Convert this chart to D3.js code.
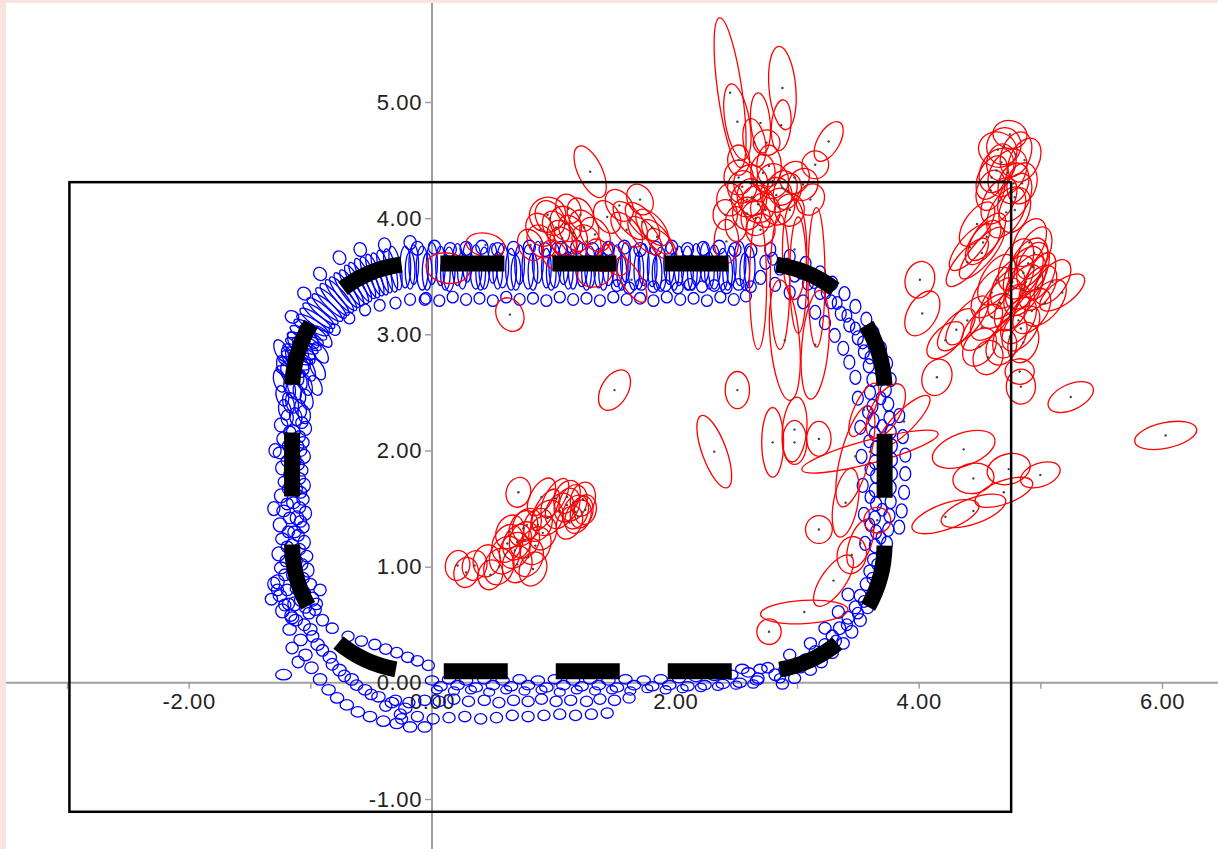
<!DOCTYPE html>
<html>
<head>
<meta charset="utf-8">
<script src="https://cdn.jsdelivr.net/npm/d3@7"></script>
<style>
body { margin: 0; background: #fff; }
svg { display: block; font-family: "Liberation Sans", Arial, sans-serif; }
</style>
</head>
<body>
<svg id="chart" width="1218" height="849"></svg>
<script>
// axis ticks
const xTicks = [-3, -2, -1, 0, 1, 2, 3, 4, 5, 6];
const xLabels = [-2, 0, 2, 4, 6];
const yTicks = [-1, 0, 1, 2, 3, 4, 5];

// outer box and dashed rounded box: [x0, y0, x1, y1] in data units
const frameBox = [-2.98, 4.31, 4.76, -1.11];
const dashBox = [-1.15, 3.61, 3.72, 0.10];
const dashCorner = [1.03, 1.10];

// blue ellipses: [x, y, rx, ry, rotation]
const blueEllipses = [
  // top band, tall
  [-0.22,3.58,.045,.18],[-0.15,3.60,.04,.17],[-0.08,3.57,.05,.19],[0.00,3.61,.045,.18],[0.07,3.59,.04,.17],[0.14,3.56,.05,.19],[0.21,3.60,.045,.18],[0.29,3.62,.04,.17],[0.36,3.58,.05,.19],[0.43,3.57,.045,.18],
  [0.50,3.61,.04,.17],[0.58,3.59,.05,.19],[0.65,3.56,.045,.18],[0.72,3.60,.04,.17],[0.79,3.58,.05,.19],[0.87,3.62,.045,.18],[0.94,3.57,.04,.17],[1.01,3.59,.05,.19],[1.08,3.61,.045,.18],[1.16,3.56,.04,.17],
  [1.23,3.60,.05,.19],[1.30,3.58,.045,.18],[1.37,3.57,.04,.17],[1.45,3.61,.05,.19],[1.52,3.59,.045,.18],[1.59,3.62,.04,.17],[1.66,3.57,.05,.19],[1.74,3.60,.045,.18],[1.81,3.58,.04,.17],[1.88,3.56,.05,.19],
  [1.95,3.61,.045,.18],[2.03,3.59,.04,.17],[2.10,3.57,.05,.19],[2.17,3.60,.045,.18],[2.24,3.62,.04,.17],[2.32,3.58,.05,.19],[2.39,3.56,.045,.18],[2.46,3.59,.04,.17],[2.53,3.61,.05,.19],[2.61,3.58,.045,.18],
  [-0.18,3.55,.04,.16],[-0.04,3.54,.04,.16],[0.11,3.53,.04,.15],[0.25,3.55,.04,.16],[0.40,3.53,.04,.15],[0.54,3.55,.04,.16],[0.69,3.53,.04,.15],[0.83,3.54,.04,.16],[0.98,3.53,.04,.15],[1.12,3.55,.04,.16],
  [1.27,3.53,.04,.15],[1.41,3.54,.04,.16],[1.56,3.53,.04,.15],[1.70,3.55,.04,.16],[1.85,3.53,.04,.15],[1.99,3.54,.04,.16],[2.14,3.53,.04,.15],[2.28,3.55,.04,.16],[2.43,3.53,.04,.15],[2.57,3.54,.04,.16],
  // top band, lower small
  [-0.05,3.31,.045,.05],[0.06,3.29,.045,.05],[0.17,3.32,.045,.05],[0.28,3.30,.045,.05],[0.39,3.31,.045,.05],[0.50,3.29,.045,.05],[0.61,3.32,.045,.05],[0.72,3.30,.045,.05],[0.83,3.31,.045,.05],[0.94,3.29,.045,.05],
  [1.05,3.32,.045,.05],[1.16,3.30,.045,.05],[1.27,3.31,.045,.05],[1.38,3.29,.045,.05],[1.49,3.32,.045,.05],[1.60,3.30,.045,.05],[1.71,3.31,.045,.05],[1.82,3.29,.045,.05],[1.93,3.32,.045,.05],[2.04,3.30,.045,.05],
  [2.15,3.31,.045,.05],[2.26,3.29,.045,.05],[2.37,3.32,.045,.05],[2.48,3.30,.045,.05],[2.58,3.33,.045,.05],
  [1.52,3.42,.045,.05],[1.62,3.40,.045,.05],[1.72,3.43,.045,.05],[1.82,3.41,.045,.05],[1.92,3.42,.045,.05],[2.02,3.40,.045,.05],[2.12,3.43,.045,.05],[2.22,3.41,.045,.05],[2.32,3.42,.045,.05],[2.42,3.40,.045,.05],[2.52,3.43,.045,.05],[2.62,3.41,.045,.05],
  // top band, upper small
  [-0.12,3.74,.05,.06],[0.02,3.75,.05,.06],[0.15,3.73,.05,.06],[0.28,3.74,.05,.06],[0.41,3.75,.05,.06],[0.54,3.73,.05,.06],[0.67,3.74,.05,.06],[0.80,3.75,.05,.06],[0.93,3.73,.05,.06],[1.06,3.74,.05,.06],
  [1.19,3.75,.05,.06],[1.32,3.73,.05,.06],[1.45,3.74,.05,.06],[1.58,3.75,.05,.06],[1.71,3.73,.05,.06],[1.84,3.74,.05,.06],[1.97,3.75,.05,.06],[2.10,3.73,.05,.06],[2.23,3.74,.05,.06],[2.36,3.75,.05,.06],[2.49,3.73,.05,.06],[2.62,3.72,.05,.06],
  // top-left corner
  [-0.30,3.57,.045,.19,-10],[-0.39,3.54,.045,.19,-15],[-0.47,3.51,.045,.19,-20],[-0.55,3.48,.045,.19,-25],[-0.62,3.43,.045,.19,-30],[-0.70,3.38,.045,.18,-35],[-0.76,3.33,.045,.18,-40],
  [-0.83,3.27,.045,.18,-45],[-0.90,3.20,.045,.17,-50],[-0.95,3.12,.045,.17,-55],[-1.00,3.04,.045,.16,-60],[-1.05,2.94,.045,.16,-65],[-1.09,2.85,.045,.15,-70],[-1.13,2.75,.045,.14,-75],
  [-0.34,3.55,.045,.19,-12],[-0.43,3.52,.045,.19,-18],[-0.51,3.49,.045,.19,-22],[-0.59,3.45,.045,.19,-28],[-0.66,3.40,.045,.18,-32],[-0.73,3.35,.045,.18,-38],[-0.80,3.30,.045,.18,-42],
  [-0.86,3.23,.045,.17,-48],[-0.93,3.16,.045,.17,-52],[-0.98,3.08,.045,.16,-58],[-1.03,2.99,.045,.16,-62],[-1.07,2.90,.045,.15,-68],[-1.11,2.80,.045,.14,-72],[-1.16,2.68,.045,.13,-78],
  [-0.55,3.21,.045,.05],[-0.43,3.25,.045,.05],[-0.30,3.27,.045,.05],[-0.18,3.30,.045,.05],[-0.06,3.30,.045,.05],[-0.68,3.14,.045,.05,-30],[-0.80,3.04,.045,.05,-40],
  [-0.76,3.66,.05,.06,-30],[-0.59,3.73,.05,.06,-20],[-0.39,3.77,.05,.06,-10],[-0.18,3.79,.05,.06],[-0.92,3.52,.05,.06,-40],[-1.05,3.35,.05,.06,-50],[-1.15,3.15,.05,.06,-60],
  // left side
  [-1.24,2.86,.05,.10,-25],[-1.22,2.72,.05,.10,-20],[-1.25,2.60,.05,.10,-15],[-1.23,2.47,.05,.09,-15],[-1.21,2.35,.05,.09,-10],[-1.24,2.22,.055,.06],[-1.22,2.10,.055,.06],[-1.25,1.98,.055,.05],[-1.23,1.85,.055,.06],[-1.21,1.73,.055,.05],
  [-1.24,1.61,.055,.06],[-1.22,1.48,.055,.05],[-1.25,1.36,.055,.06],[-1.23,1.24,.055,.05],[-1.26,1.11,.055,.06],[-1.24,0.99,.055,.05],[-1.27,0.87,.055,.06],[-1.25,0.75,.055,.05],[-1.23,0.62,.055,.06],
  [-1.18,2.80,.045,.10,-25],[-1.19,2.66,.045,.10,-20],[-1.17,2.54,.045,.09,-15],[-1.18,2.41,.045,.09,-15],[-1.19,2.28,.05,.07],[-1.17,2.16,.05,.05],[-1.18,2.04,.05,.05],[-1.19,1.91,.05,.05],[-1.17,1.79,.05,.05],[-1.18,1.67,.05,.05],
  [-1.19,1.54,.05,.05],[-1.17,1.42,.05,.05],[-1.18,1.30,.05,.05],[-1.19,1.17,.05,.05],[-1.20,1.05,.05,.05],[-1.21,0.93,.05,.05],[-1.19,0.80,.05,.05],[-1.18,0.68,.05,.05],[-1.16,0.58,.05,.05],
  [-1.12,2.92,.05,.11,-30],[-1.14,2.79,.05,.11,-25],[-1.11,2.66,.05,.10,-20],[-1.13,2.53,.05,.10,-20],[-1.15,2.41,.05,.09,-15],[-1.12,2.29,.05,.08,-10],[-1.14,2.16,.055,.06],[-1.11,2.04,.055,.05],[-1.13,1.92,.055,.06],[-1.15,1.79,.055,.05],
  [-1.12,1.67,.055,.06],[-1.14,1.55,.055,.05],[-1.11,1.42,.055,.06],[-1.13,1.30,.055,.05],[-1.15,1.18,.055,.06],[-1.12,1.05,.055,.05],[-1.14,0.93,.055,.06],[-1.11,0.81,.055,.05],[-1.13,0.68,.055,.06],[-1.15,0.56,.055,.05],
  [-1.08,2.88,.045,.11,-30],[-1.07,2.75,.045,.10,-25],[-1.08,2.62,.045,.10,-20],[-1.09,2.49,.045,.09,-20],[-1.08,2.36,.045,.08,-15],[-1.07,2.24,.05,.05],[-1.09,2.12,.05,.05],[-1.08,2.00,.05,.05],[-1.10,1.88,.05,.05],[-1.09,1.76,.05,.05],
  [-1.08,1.64,.05,.05],[-1.09,1.51,.05,.05],[-1.08,1.39,.05,.05],[-1.10,1.27,.05,.05],[-1.09,1.15,.05,.05],[-1.07,1.02,.05,.05],[-1.06,0.90,.05,.05],[-1.05,0.78,.05,.05],[-1.04,0.65,.05,.05],
  [-1.01,2.98,.05,.12,-35],[-1.03,2.84,.05,.11,-30],[-1.02,2.70,.05,.11,-25],[-1.04,2.57,.05,.10,-20],[-1.03,2.44,.05,.09,-15],[-1.05,2.31,.05,.08,-10],[-1.04,2.19,.05,.06],[-1.06,2.07,.05,.05],[-1.05,1.95,.05,.06],[-1.07,1.83,.05,.05],
  [-1.05,1.70,.05,.06],[-1.06,1.58,.05,.05],[-1.04,1.46,.05,.06],[-1.06,1.34,.05,.05],[-1.05,1.21,.05,.06],[-1.03,1.09,.05,.05],[-1.02,0.97,.05,.06],[-1.00,0.85,.05,.05],[-0.98,0.72,.05,.06],[-1.01,0.60,.05,.05],
  [-0.90,2.98,.05,.11,-40],[-0.92,2.84,.05,.10,-35],[-0.94,2.70,.05,.10,-30],[-0.96,2.56,.05,.09,-25],[-0.92,0.80,.05,.05],[-0.95,0.68,.05,.05],[-1.30,0.85,.05,.06],[-1.32,0.72,.05,.05],[-1.29,2.00,.05,.06],[-1.30,1.50,.05,.06],
  // lower-left corner
  [-1.17,0.46,.055,.05],[-1.08,0.37,.055,.05],[-1.04,0.24,.055,.05],[-0.99,0.13,.055,.05],[-0.92,0.03,.055,.05],[-0.85,-0.06,.055,.045],[-0.78,-0.13,.055,.045],[-0.70,-0.19,.055,.045],[-0.61,-0.25,.055,.045],[-0.51,-0.29,.055,.045],
  [-0.40,-0.33,.055,.045],[-0.29,-0.35,.055,.045],[-0.18,-0.38,.055,.045],[-0.06,-0.38,.055,.045],
  [-1.12,0.54,.055,.05],[-1.00,0.46,.055,.05],[-0.94,0.33,.055,.05],[-0.84,0.22,.055,.05],[-0.76,0.11,.055,.05],[-0.66,0.03,.055,.05],[-0.55,-0.06,.055,.045],[-0.44,-0.12,.055,.045],[-0.33,-0.17,.055,.045],[-0.22,-0.22,.055,.045],
  [-0.96,0.63,.05,.05],[-0.90,0.54,.05,.05],[-1.08,0.71,.05,.05],[-1.21,0.67,.05,.05],[-1.27,0.80,.05,.05],[-1.15,0.30,.05,.05],[-1.10,0.18,.05,.05],
  [-1.05,0.50,.05,.05],[-0.98,0.40,.05,.05],[-0.90,0.28,.05,.05],[-0.82,0.16,.05,.05],[-0.72,0.06,.05,.05],[-0.62,-0.02,.05,.045],[-0.50,-0.10,.05,.045],[-0.38,-0.20,.05,.045],[-0.26,-0.27,.05,.045],
  [-0.82,0.47,.05,.045],[-0.69,0.40,.05,.045],[-0.58,0.36,.05,.045],[-0.47,0.33,.05,.045],[-0.38,0.29,.05,.045],[-0.29,0.26,.05,.045],[-0.20,0.22,.05,.045],[-0.12,0.19,.05,.045],[-0.03,0.15,.05,.045],
  [-1.22,0.07,.065,.045],
  // bottom band
  [0.00,0.02,.055,.04],[0.07,-0.03,.055,.04],[0.14,0.03,.055,.04],[0.21,-0.02,.055,.04],[0.28,0.02,.055,.04],[0.36,-0.04,.055,.04],[0.43,0.03,.055,.04],[0.50,-0.02,.055,.04],[0.58,0.02,.055,.04],[0.65,-0.03,.055,.04],
  [0.72,0.03,.055,.04],[0.79,-0.02,.055,.04],[0.87,0.02,.055,.04],[0.94,-0.04,.055,.04],[1.01,0.03,.055,.04],[1.08,-0.02,.055,.04],[1.16,0.02,.055,.04],[1.23,-0.03,.055,.04],[1.30,0.03,.055,.04],[1.37,-0.02,.055,.04],
  [1.45,0.02,.055,.04],[1.52,-0.04,.055,.04],[1.59,0.03,.055,.04],[1.66,-0.02,.055,.04],[1.74,0.02,.055,.04],[1.81,-0.03,.055,.04],[1.88,0.03,.055,.04],[1.95,-0.02,.055,.04],[2.03,0.04,.055,.04],[2.10,-0.03,.055,.04],
  [2.17,0.05,.055,.04],[2.24,-0.02,.055,.04],[2.32,0.06,.055,.04],[2.39,-0.01,.055,.04],[2.46,0.07,.055,.04],[2.53,0.00,.055,.04],[2.60,0.09,.055,.04],[2.67,0.02,.055,.04],[2.55,0.12,.055,.04],[2.70,0.12,.055,.04],
  [0.04,-0.06,.045,.035],[0.18,-0.07,.045,.035],[0.32,-0.06,.045,.035],[0.47,-0.08,.045,.035],[0.61,-0.06,.045,.035],[0.76,-0.07,.045,.035],[0.90,-0.06,.045,.035],[1.05,-0.08,.045,.035],[1.19,-0.06,.045,.035],
  [1.34,-0.07,.045,.035],[1.48,-0.06,.045,.035],[1.63,-0.07,.045,.035],[1.77,-0.05,.045,.035],[1.92,-0.06,.045,.035],[2.06,-0.05,.045,.035],[2.21,-0.04,.045,.035],[2.35,-0.03,.045,.035],[2.50,-0.02,.045,.035],[2.64,-0.01,.045,.035],
  [-0.30,-0.15,.05,.045],[-0.19,-0.17,.05,.045],[-0.06,-0.15,.05,.045],[0.06,-0.16,.05,.045],[0.18,-0.14,.05,.045],[0.30,-0.16,.05,.045],[0.43,-0.15,.05,.045],[0.55,-0.17,.05,.045],[0.67,-0.15,.05,.045],
  [0.79,-0.16,.05,.045],[0.90,-0.14,.05,.045],[1.02,-0.16,.05,.045],[1.14,-0.15,.05,.045],[1.27,-0.16,.05,.045],[1.38,-0.14,.05,.045],[1.50,-0.15,.05,.045],[1.62,-0.13,.05,.045],
  [-0.25,-0.31,.05,.045],[-0.12,-0.29,.05,.045],[0.01,-0.31,.05,.045],[0.14,-0.30,.05,.045],[0.27,-0.29,.05,.045],[0.40,-0.31,.05,.045],[0.53,-0.30,.05,.045],
  [0.66,-0.28,.05,.045],[0.79,-0.29,.05,.045],[0.92,-0.28,.05,.045],[1.05,-0.27,.05,.045],[1.18,-0.28,.05,.045],[1.31,-0.27,.05,.045],[1.44,-0.26,.05,.045],
  // bottom-right corner
  [2.82,0.07,.05,.05],[2.90,0.11,.05,.05],[2.98,0.15,.05,.05],[3.07,0.20,.05,.05],[3.15,0.27,.05,.05],[3.23,0.33,.05,.05],[3.29,0.40,.05,.055],[3.35,0.47,.05,.055],[3.42,0.56,.05,.055],[3.48,0.65,.05,.055],
  [3.52,0.75,.05,.055],[3.57,0.85,.05,.055],[3.60,0.96,.05,.055],[3.63,1.06,.05,.055],
  [2.88,-0.01,.05,.045],[2.98,0.04,.05,.045],[3.11,0.11,.05,.045],[3.20,0.18,.05,.05],[3.29,0.26,.05,.05],[3.38,0.34,.05,.05],[3.45,0.44,.05,.055],[3.52,0.54,.05,.055],[3.58,0.65,.05,.055],[3.63,0.75,.05,.055],
  [3.68,0.87,.05,.055],[3.71,0.99,.05,.055],
  [2.68,0.04,.05,.045],[2.76,0.13,.05,.045],[2.94,0.24,.05,.05],[3.11,0.34,.05,.05],[3.23,0.47,.05,.05],[3.34,0.61,.05,.055],[3.42,0.76,.05,.055],
  [2.86,0.04,.045,.04],[3.03,0.13,.045,.045],[3.19,0.24,.045,.045],[3.32,0.36,.045,.05],[3.41,0.50,.045,.05],[3.50,0.60,.045,.05],[3.55,0.70,.045,.05],[3.62,0.90,.045,.05],[3.66,1.02,.045,.05],
  // right side
  [3.50,2.45,.045,.06],[3.52,2.20,.045,.06],[3.53,1.95,.045,.06],[3.54,1.70,.045,.06],[3.55,1.45,.045,.06],[3.56,1.20,.045,.06],
  [3.60,2.50,.045,.06],[3.62,2.38,.045,.06],[3.63,2.26,.045,.06],[3.64,2.14,.045,.06],[3.65,2.02,.045,.06],[3.64,1.90,.045,.06],[3.65,1.78,.045,.06],[3.64,1.66,.045,.06],[3.65,1.54,.045,.06],[3.64,1.42,.045,.06],[3.65,1.30,.045,.06],[3.64,1.18,.045,.06],
  [3.73,2.52,.045,.06],[3.75,2.40,.045,.06],[3.76,2.28,.045,.06],[3.77,2.16,.045,.06],[3.78,2.04,.045,.06],[3.78,1.92,.045,.06],[3.78,1.80,.045,.06],[3.77,1.68,.045,.06],[3.77,1.56,.045,.06],[3.76,1.44,.045,.06],[3.75,1.32,.045,.06],[3.74,1.20,.045,.06],
  [3.84,2.30,.045,.06],[3.87,2.12,.045,.06],[3.89,1.96,.045,.06],[3.89,1.80,.045,.06],[3.88,1.64,.045,.06],[3.86,1.48,.045,.06],[3.84,1.34,.045,.06],
  [3.69,2.45,.04,.055],[3.70,2.21,.04,.055],[3.71,1.97,.04,.055],[3.71,1.73,.04,.055],[3.70,1.49,.04,.055],[3.69,1.25,.04,.055],[3.58,2.33,.04,.055],[3.59,2.08,.04,.055],[3.60,1.84,.04,.055],[3.60,1.60,.04,.055],[3.60,1.36,.04,.055],
  // top-right corner
  [2.74,3.62,.045,.06],[2.86,3.57,.045,.06],[2.98,3.51,.045,.06],[3.09,3.44,.045,.06],[3.19,3.36,.045,.06],[3.28,3.28,.045,.06],[3.36,3.18,.045,.06],[3.43,3.08,.045,.06],[3.50,2.97,.045,.06],[3.55,2.85,.045,.06],
  [3.59,2.73,.045,.06],[3.62,2.61,.045,.06],
  [2.78,3.73,.045,.06],[2.94,3.67,.045,.06],[3.07,3.61,.045,.06],[3.19,3.53,.045,.06],[3.29,3.44,.045,.06],[3.39,3.35,.045,.06],[3.48,3.24,.045,.06],[3.57,3.13,.045,.06],[3.63,3.01,.045,.06],[3.69,2.88,.045,.06],
  [3.74,2.75,.045,.06],[3.77,2.61,.045,.06],
  [2.70,3.49,.045,.06],[2.82,3.43,.045,.06],[2.94,3.36,.045,.06],[3.05,3.28,.045,.06],[3.15,3.19,.045,.06],[3.23,3.10,.045,.06],[3.31,2.99,.045,.06],[3.38,2.88,.045,.06],[3.43,2.76,.045,.06],[3.48,2.63,.045,.06],
  [2.80,3.65,.04,.055],[2.92,3.60,.04,.055],[3.03,3.53,.04,.055],[3.14,3.45,.04,.055],[3.24,3.36,.04,.055],[3.33,3.27,.04,.055],[3.41,3.16,.04,.055],[3.48,3.05,.04,.055],[3.54,2.93,.04,.055],[3.60,2.80,.04,.055]
];

// red ellipses: [x, y, rx, ry, rotation]
const redEllipses = [
  // centre cluster
  [0.21,1.01,.10,.13,10],[0.35,1.01,.10,.13,15],[0.48,0.93,.10,.13,15],[0.60,1.10,.12,.17,25],[0.62,1.20,.12,.17,25],[0.70,1.21,.11,.16,25],
  [0.76,1.23,.12,.16,20],[0.79,1.08,.12,.17,20],[0.70,1.02,.12,.16,15],[0.68,1.14,.12,.16,25],[0.78,1.36,.11,.15,30],[0.75,1.33,.11,.16,25],
  [0.87,1.36,.11,.15,30],[0.91,1.29,.11,.15,20],[0.93,1.49,.08,.20,30],[1.01,1.59,.08,.19,30],[1.11,1.60,.10,.15,25],[1.13,1.38,.10,.15,25],
  [1.18,1.47,.10,.15,20],[1.23,1.47,.09,.14,15],[1.26,1.49,.09,.13,10],[1.20,1.43,.10,.15,25],[1.11,1.53,.10,.15,20],[0.71,1.64,.10,.13,15],
  [0.55,1.00,.12,.16,20],[0.45,1.05,.11,.14,15],[0.85,1.18,.12,.17,25],[0.95,1.42,.12,.16,30],[1.05,1.48,.11,.16,25],[1.16,1.55,.11,.16,20],
  [0.64,1.30,.11,.15,25],[0.90,1.60,.09,.18,30],[0.28,0.95,.10,.13,10],[0.83,0.98,.11,.15,20],[1.24,1.58,.10,.15,15],
  // upper middle
  [1.30,4.40,.10,.24,-25],[0.97,4.00,.11,.16,-30],[1.07,3.83,.11,.16,-30],[1.16,3.87,.10,.17,-30],[1.22,4.03,.10,.15,-25],[1.34,3.86,.11,.16,-35],
  [1.44,4.01,.10,.15,-30],[1.08,3.79,.10,.14,-30],[1.27,3.80,.11,.15,-30],[0.89,3.90,.11,.15,-30],[0.81,3.77,.10,.14,-25],[1.01,3.68,.10,.14,-30],
  [1.38,3.68,.10,.15,-30],[1.50,3.64,.09,.15,-35],[0.95,4.03,.15,.15,-20],[1.12,4.08,.10,.13,-25],[1.63,3.98,.09,.20,-40],[1.73,3.97,.09,.20,-40],
  [1.81,3.92,.09,.19,-40],[1.85,3.84,.08,.18,-40],[1.89,3.77,.08,.17,-40],[1.54,4.11,.10,.15,-35],[1.71,4.16,.10,.14,-30],[1.64,3.47,.08,.22,-30],
  [1.34,3.54,.15,.13,-20],[0.64,3.17,.11,.15,-25],[0.13,3.57,.18,.13,10],[0.44,3.77,.16,.10,10],[1.50,2.52,.11,.19,30],
  [1.10,3.95,.12,.16,-30],[1.25,3.92,.11,.16,-30],[0.90,3.80,.11,.15,-30],[1.75,3.85,.09,.20,-40],[1.60,3.90,.09,.18,-40],[1.02,3.92,.10,.15,-30],
  // tall cluster
  [2.45,5.08,.10,.65,-8],[2.51,4.83,.10,.33,-10],[2.88,5.12,.11,.36,-5],[3.26,4.66,.09,.19,30],[3.15,4.46,.11,.12,0],[2.52,4.50,.09,.13,0],
  [2.65,4.65,.09,.21,-10],[2.70,4.82,.08,.26,-5],[2.87,4.80,.08,.22,5],[2.75,4.65,.11,.11,0],[2.55,4.27,.12,.14,10],[2.59,4.16,.13,.15,0],
  [2.63,4.18,.12,.16,-10],[2.59,4.04,.12,.14,0],[2.45,4.16,.11,.14,0],[2.88,4.26,.12,.15,15],[2.92,4.23,.11,.16,20],[3.05,4.29,.12,.14,25],
  [2.83,4.20,.13,.15,0],[2.72,4.39,.10,.16,0],[2.74,4.07,.12,.15,-15],[2.94,4.07,.12,.14,10],[3.11,4.16,.11,.14,30],[2.41,4.03,.10,.13,0],
  [2.70,3.90,.12,.14,0],[2.42,3.80,.10,.19,0],
  [2.62,4.30,.14,.16,0],[2.80,4.32,.13,.15,10],[2.68,4.12,.14,.16,-10],[2.85,4.10,.13,.16,15],[2.52,4.35,.12,.15,0],[2.98,4.35,.12,.14,20],
  [2.77,4.45,.10,.18,0],[2.66,4.00,.12,.15,0],[2.50,3.95,.09,.15,0],
  [3.16,3.49,.07,.60,0],[2.86,3.45,.08,.58,0],[2.98,3.73,.10,.43,0],[2.68,3.44,.07,.57,0],[3.01,3.51,.07,.50,0],
  [2.90,2.95,.12,.52,-5],[3.15,2.91,.11,.47,5],
  // right of ring
  [3.60,1.99,.58,.10,-15],[3.88,2.25,.29,.09,-45],[3.73,2.34,.12,.26,30],[3.48,1.95,.12,.45,15],[3.55,2.35,.08,.25,25],[3.45,1.10,.12,.16,10],
  [3.30,0.88,.10,.26,35],[3.06,0.61,.36,.10,-3],[2.77,0.44,.10,.11,0],[3.18,1.32,.11,.12,0],[3.66,1.40,.11,.11,0],[3.52,1.20,.09,.22,20],
  [3.40,1.55,.10,.30,10],[2.51,2.52,.10,.16,0],[2.32,1.99,.10,.33,-20],[2.80,2.07,.09,.30,0],[2.98,2.07,.10,.19,0],[3.18,2.10,.10,.15,0],
  [2.98,2.18,.10,.28,5],
  // far right, upper cluster
  [4.65,4.59,.16,.15,20],[4.64,4.41,.13,.20,25],[4.73,4.39,.14,.22,30],[4.79,4.18,.12,.22,25],[4.72,4.05,.13,.24,30],[4.79,4.07,.12,.20,20],
  [4.56,3.84,.10,.24,35],[4.42,3.75,.09,.25,40],[4.53,3.79,.10,.22,35],[4.75,4.72,.14,.12,10],[4.87,4.50,.12,.20,25],[4.59,4.24,.11,.18,20],
  [4.52,3.70,.09,.28,40],[4.40,3.62,.09,.26,40],[4.85,4.30,.12,.18,15],[4.68,4.48,.12,.16,10],
  [4.70,4.62,.14,.16,15],[4.80,4.55,.12,.20,20],[4.60,4.35,.11,.20,25],[4.66,4.15,.12,.22,30],[4.48,3.95,.10,.22,35],[4.78,4.30,.12,.18,20],
  // far right, lower cluster
  [4.91,3.79,.12,.22,25],[4.90,3.61,.13,.24,30],[4.94,3.58,.12,.22,20],[4.86,3.53,.13,.25,30],[4.64,3.47,.12,.24,30],[4.77,3.45,.13,.26,35],
  [4.60,3.36,.12,.25,35],[4.86,3.38,.13,.24,30],[4.67,3.27,.13,.25,35],[4.77,3.23,.12,.22,30],[5.04,3.27,.12,.24,40],[4.40,3.12,.10,.26,40],
  [4.52,3.06,.11,.24,40],[4.31,3.04,.10,.22,40],[4.22,2.95,.10,.20,45],[4.50,2.89,.12,.18,35],[4.68,2.89,.12,.16,25],[4.57,2.80,.12,.15,20],
  [4.86,2.93,.12,.18,20],[4.82,3.12,.12,.22,30],[5.18,3.36,.22,.10,-37],[5.00,3.50,.10,.22,25],
  [4.95,3.70,.12,.24,25],[4.88,3.45,.13,.26,30],[4.98,3.40,.12,.22,35],[4.80,3.60,.12,.24,25],[4.93,3.20,.12,.22,35],[4.72,3.35,.12,.24,30],
  [4.84,3.05,.12,.22,35],[4.60,3.15,.12,.24,40],[4.75,2.98,.12,.20,30],[5.10,3.45,.11,.22,35],
  // scattered right
  [4.01,3.47,.12,.16,15],[4.03,3.18,.12,.21,30],[4.15,2.63,.12,.16,20],[4.84,2.55,.12,.15,0],[4.83,2.68,.12,.11,0],[5.25,2.46,.20,.11,-25],
  [6.03,2.13,.26,.11,-12],[4.37,2.01,.27,.14,-20],[4.45,1.76,.17,.13,-10],[4.74,1.84,.18,.13,-15],[5.00,1.79,.17,.10,-20],[4.22,1.43,.29,.11,-20],
  [4.45,1.48,.28,.11,-20],[4.70,1.64,.25,.10,-20]
];

const svg = d3.select('#chart');
const width = +svg.attr('width');
const height = +svg.attr('height');

const x = d3.scaleLinear().domain([-3, 6]).range([67, 1162]);
const y = d3.scaleLinear().domain([-1, 5]).range([799, 102]);

svg.append('rect').attr('width', width).attr('height', height).attr('fill', '#fff');
svg.append('rect').attr('width', width).attr('height', 3).attr('fill', '#fae3de');
svg.append('rect').attr('width', 6).attr('height', height).attr('fill', '#fae3de');

// axis lines through the origin
svg.append('line')
    .attr('x1', 6).attr('x2', width)
    .attr('y1', y(0)).attr('y2', y(0))
    .attr('stroke', '#a0a0a0').attr('stroke-width', 2);
svg.append('line')
    .attr('x1', x(0)).attr('x2', x(0))
    .attr('y1', 3).attr('y2', height)
    .attr('stroke', '#a0a0a0').attr('stroke-width', 2);

const fmt = d => d.toFixed(2);

const xAxis = svg.append('g')
    .attr('transform', `translate(0,${y(0)})`)
    .call(d3.axisBottom(x).tickValues(xTicks).tickSize(6).tickPadding(5)
        .tickFormat(d => xLabels.includes(d) ? fmt(d) : ''));
const yAxis = svg.append('g')
    .attr('transform', `translate(${x(0)},0)`)
    .call(d3.axisLeft(y).tickValues(yTicks).tickSize(7).tickPadding(3)
        .tickFormat(fmt));

[xAxis, yAxis].forEach(g => {
    g.select('.domain').remove();
    g.selectAll('line').attr('stroke', '#a0a0a0').attr('stroke-width', 1.5);
    g.selectAll('text')
        .attr('fill', '#222')
        .style('font-size', '22px')
        .style('letter-spacing', '0.6px')
        .style('font-family', '"Liberation Sans", Arial, sans-serif');
});

// ellipses
function drawEllipses (data, colour, width) {
    return svg.append('g').selectAll('ellipse').data(data)
        .join('ellipse')
        .attr('transform', d => `translate(${x(d[0])},${y(d[1])}) rotate(${d[4] || 0})`)
        .attr('rx', d => x(d[2]) - x(0))
        .attr('ry', d => y(0) - y(d[3]))
        .attr('fill', 'none')
        .attr('stroke', colour)
        .attr('stroke-width', width);
}

drawEllipses(blueEllipses, '#0000ff', 1.3);
drawEllipses(redEllipses, '#ff0000', 1.3);

svg.append('g').selectAll('circle').data(redEllipses)
    .join('circle')
    .attr('cx', d => x(d[0]))
    .attr('cy', d => y(d[1]))
    .attr('r', 1.2)
    .attr('fill', '#444');

// solid frame
svg.append('rect')
    .attr('x', x(frameBox[0])).attr('y', y(frameBox[1]))
    .attr('width', x(frameBox[2]) - x(frameBox[0]))
    .attr('height', y(frameBox[3]) - y(frameBox[1]))
    .attr('fill', 'none').attr('stroke', '#000').attr('stroke-width', 2.5);

// dashed rounded box
svg.append('rect')
    .attr('x', x(dashBox[0])).attr('y', y(dashBox[1]))
    .attr('width', x(dashBox[2]) - x(dashBox[0]))
    .attr('height', y(dashBox[3]) - y(dashBox[1]))
    .attr('rx', x(dashCorner[0]) - x(0))
    .attr('ry', y(0) - y(dashCorner[1]))
    .attr('fill', 'none').attr('stroke', '#000').attr('stroke-width', 16)
    .attr('stroke-dasharray', '64,48').attr('stroke-dashoffset', 89);
</script>
</body>
</html>
